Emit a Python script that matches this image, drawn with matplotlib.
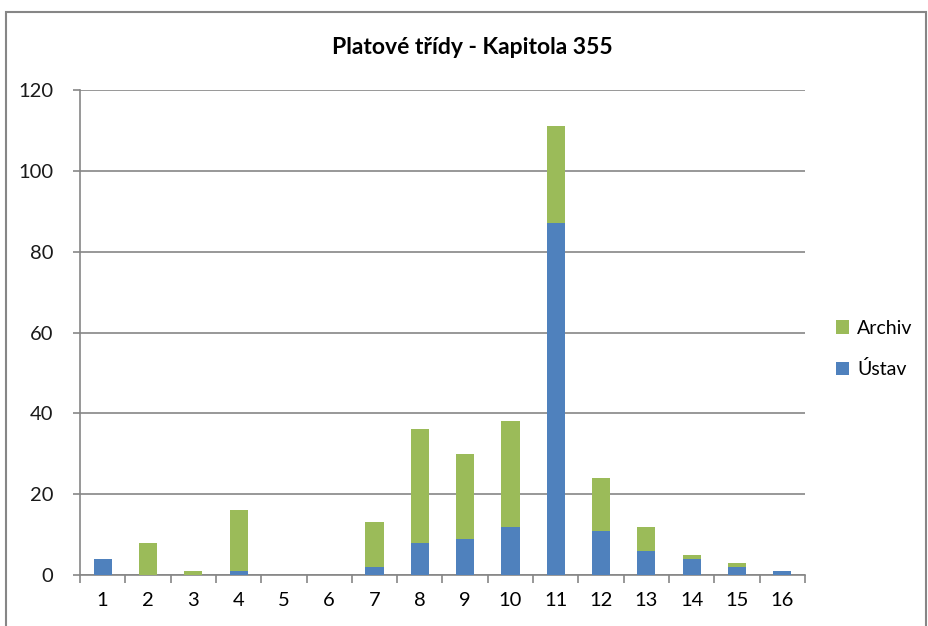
import matplotlib
matplotlib.use("Agg")
import matplotlib.pyplot as plt
from matplotlib.patches import Rectangle
import numpy as np

categories = [str(i) for i in range(1, 17)]
ustav = [4, 0, 0, 1, 0, 0, 2, 8, 9, 12, 87, 11, 6, 4, 2, 1]
archiv = [0, 8, 1, 15, 0, 0, 11, 28, 21, 26, 24, 13, 6, 1, 1, 0]
yticks = [0, 20, 40, 60, 80, 100, 120]

plt.rcParams['font.family'] = ['Lato', 'DejaVu Sans']

W, H = 929, 626
fig = plt.figure(figsize=(W / 100, H / 100), dpi=100)
ax = fig.add_axes([80 / W, 1 - 575 / H, (805 - 80) / W, (575 - 90) / H])

blue = '#4F81BD'
green = '#9BBB59'
x = np.arange(1, 17)
ax.bar(x, ustav, width=0.4, color=blue, label='Ústav', zorder=3)
ax.bar(x, archiv, width=0.4, bottom=ustav, color=green, label='Archiv', zorder=3)

ax.set_xlim(0.5, 16.5)
ax.set_ylim(0, 120)
ax.set_yticks(yticks)
ax.yaxis.grid(True, color='#868686', linewidth=1.2, zorder=0)
ax.set_axisbelow(True)
for s in ['top', 'right']:
    ax.spines[s].set_visible(False)
ax.spines['left'].set_color('#868686')
ax.spines['bottom'].set_color('#868686')
ax.spines['left'].set_linewidth(1.2)
ax.spines['bottom'].set_linewidth(1.2)

ax.set_xticks(np.arange(0.5, 17, 1))
ax.set_xticklabels([])
ax.set_xticks(x, minor=True)
ax.set_xticklabels(categories, minor=True, fontsize=14.5)
ax.tick_params(axis='x', which='major', length=6, color='#868686', width=1.2)
ax.tick_params(axis='x', which='minor', length=0, pad=12)
ax.tick_params(axis='y', length=5, color='#868686', width=1.2, labelsize=14.5, pad=14, labelcolor='#1a1a1a')

fig.text(472 / W, 1 - 47 / H, 'Platové třídy - Kapitola 355',
         ha='center', va='center', fontsize=16.5, fontweight='bold')

handles, labels = ax.get_legend_handles_labels()
fig.legend(handles[::-1], labels[::-1], loc='center left',
           bbox_to_anchor=(832 / W, 1 - 349 / H), frameon=False, fontsize=14,
           handlelength=0.7, handleheight=0.7, labelspacing=1.2, handletextpad=0.4,
           borderpad=0.2, borderaxespad=0)

fig.patches.append(Rectangle((6 / W, -0.05), (926 - 6) / W, 1.05 - 12 / H,
                             transform=fig.transFigure, fill=False,
                             edgecolor='#868686', linewidth=1.5))

fig.savefig('out.png', dpi=100)
